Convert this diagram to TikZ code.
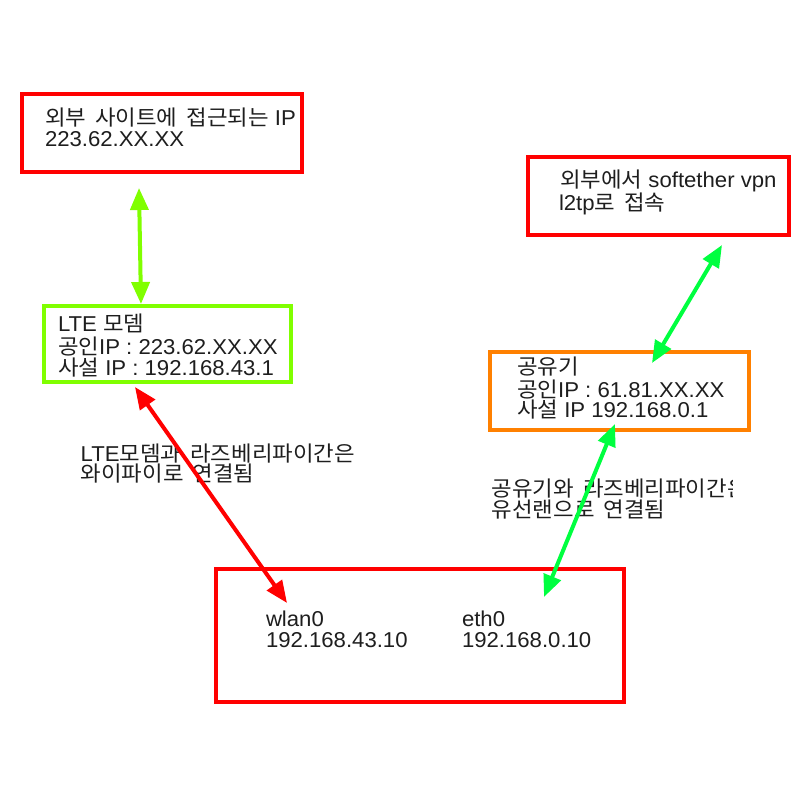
\documentclass[tikz,border=0pt]{standalone}
\usepackage{fontspec}
\setmainfont[FakeStretch=1.03]{Liberation Sans}
\newfontfamily\krfont[FakeStretch=1.05]{Noto Sans CJK KR}
\newcommand\K[1]{{\krfont\fontsize{21.3}{22}\selectfont\spaceskip=9pt\relax #1}}
\usetikzlibrary{arrows.meta}
\definecolor{ink}{HTML}{1E1E1E}
\definecolor{boxred}{HTML}{FF0000}
\definecolor{boxlime}{HTML}{80FF00}
\definecolor{boxorange}{HTML}{FF8000}
\definecolor{linkgreen}{HTML}{00FF40}
\tikzset{
  boxnode/.style={draw=#1, line width=4pt, rectangle, inner sep=0pt, outer sep=0pt},
  txt/.style={anchor=base west, inner sep=0pt, outer sep=0pt, text=ink, font=\fontsize{21.5}{22}\selectfont},
  link/.style={draw=#1, line width=4pt, {Triangle[length=22pt,width=18pt]}-{Triangle[length=22pt,width=18pt]}}
}
\begin{document}
\begin{tikzpicture}[x=1pt,y=-1pt]
\useasboundingbox (0,0) rectangle (800,800);
\fill[white] (0,0) rectangle (800,800);
% boxes
\node[boxnode=boxred, minimum width=280pt, minimum height=78pt] (ext) at (162,133) {};
\node[boxnode=boxred, minimum width=261pt, minimum height=78pt] (vpn) at (658.5,196) {};
\node[boxnode=boxlime, minimum width=247pt, minimum height=76pt] (lte) at (167.5,344) {};
\node[boxnode=boxorange, minimum width=259pt, minimum height=78pt] (rt) at (619.5,391) {};
\node[boxnode=boxred, minimum width=408pt, minimum height=133pt] (pi) at (420,635.5) {};
% texts
\node[txt] (ext1) at (45,125.5) {\K{외부 사이트에 접근되는} IP};
\node[txt] (ext2) at (45,146.7) {223.62.XX.XX};
\node[txt] (vpn1) at (560,187) {\K{외부에서} softether vpn};
\node[txt] (vpn2) at (559,210) {l2tp\K{로 접속}};
\node[txt] (lte1) at (58,331.7) {LTE \K{모뎀}};
\node[txt] (lte2) at (58,354) {\K{공인}IP : 223.62.XX.XX};
\node[txt] (lte3) at (58,375) {\K{사설} IP : 192.168.43.1};
\node[txt] (rt1) at (517,374) {\K{공유기}};
\node[txt] (rt2) at (517,397) {\K{공인}IP : 61.81.XX.XX};
\node[txt] (rt3) at (517,417) {\K{사설} IP 192.168.0.1};
\node[txt] (pi1) at (266,626.7) {wlan0};
\node[txt] (pi2) at (266,647.3) {192.168.43.10};
\node[txt] (pi3) at (462,626.7) {eth0};
\node[txt] (pi4) at (462,647.3) {192.168.0.10};
\node[txt] (lab1a) at (80.7,461.7) {LTE\K{모뎀과 라즈베리파이간은}};
\node[txt] (lab1b) at (80.7,481.7) {\K{와이파이로 연결됨}};
\begin{scope}
\clip (480,470) rectangle (732,530);
\node[txt] (lab2a) at (491.7,496.7) {\K{공유기와 라즈베리파이간은}};
\end{scope}
\node[txt] (lab2b) at (491.7,517.7) {\K{유선랜으로 연결됨}};
% link end points
\coordinate (extEnd) at (139,188);
\coordinate (lteTop) at (141,304);
\coordinate (lteBot) at (135,387);
\coordinate (piL) at (287,603);
\coordinate (vpnEnd) at (722,245);
\coordinate (rtTop) at (652,363);
\coordinate (rtBot) at (615,424);
\coordinate (piR) at (544,597);
% links
\draw[link=boxlime] (extEnd) -- (lteTop);
\draw[link=boxred] (lteBot) -- (piL);
\draw[link=linkgreen] (vpnEnd) -- (rtTop);
\draw[link=linkgreen] (rtBot) -- (piR);
\end{tikzpicture}
\end{document}
